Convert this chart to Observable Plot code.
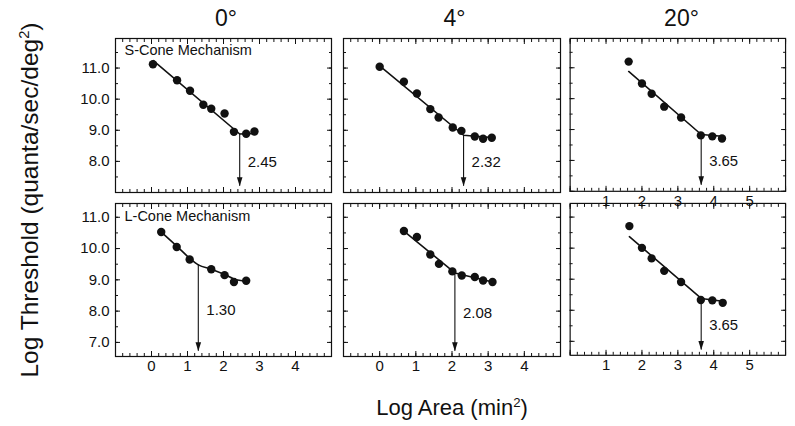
<!DOCTYPE html>
<html><head><meta charset="utf-8">
<script src="https://cdn.jsdelivr.net/npm/d3@7"></script>
<script src="https://cdn.jsdelivr.net/npm/@observablehq/plot@0.6"></script>
<style>
body{margin:0;background:#fff;}
#chart{position:relative;width:795px;height:426px;font-family:"Liberation Sans",Arial,Helvetica,sans-serif;color:#111;overflow:hidden;background:#fff;}
.panel{position:absolute;}
.panel svg{overflow:visible;background:transparent;}
.t{position:absolute;white-space:nowrap;line-height:1;}
.t sup{font-size:0.6em;vertical-align:0.6em;line-height:0;}
</style></head><body><div id="chart"></div>
<script>
// ---- data ----
const eccentricities = ["0°", "4°", "20°"];
const mechanisms = ["S-Cone Mechanism", "L-Cone Mechanism"];

// S-cone, 0°
const s0X = [0.04, 0.71, 1.07, 1.44, 1.66, 2.03, 2.29, 2.63, 2.86];
const s0Y = [11.12, 10.61, 10.27, 9.82, 9.69, 9.54, 8.95, 8.89, 8.96];
const s0FitX = [0.05, 2.45, 2.86];
const s0FitY = [11.24, 8.88, 8.90];
// S-cone, 4°
const s4X = [0.0, 0.67, 1.03, 1.40, 1.63, 2.02, 2.26, 2.63, 2.86, 3.10];
const s4Y = [11.04, 10.56, 10.18, 9.68, 9.41, 9.09, 8.98, 8.80, 8.73, 8.76];
const s4FitX = [0.0, 2.32, 3.10];
const s4FitY = [11.07, 8.84, 8.77];
// S-cone, 20°
const s20X = [1.63, 2.00, 2.27, 2.62, 3.09, 3.64, 3.96, 4.23];
const s20Y = [11.20, 10.49, 10.16, 9.74, 9.39, 8.81, 8.78, 8.71];
const s20FitX = [1.63, 3.65, 4.23];
const s20FitY = [10.88, 8.84, 8.78];
// L-cone, 0°
const l0X = [0.27, 0.70, 1.06, 1.66, 2.03, 2.29, 2.63];
const l0Y = [10.53, 10.05, 9.65, 9.34, 9.15, 8.93, 8.97];
const l0FitX = [0.27, 0.70, 1.06, 1.30, 1.66, 2.03, 2.29, 2.63];
const l0FitY = [10.53, 10.08, 9.69, 9.48, 9.34, 9.17, 9.03, 8.96];
// L-cone, 4°
const l4X = [0.67, 1.03, 1.40, 1.64, 2.01, 2.27, 2.63, 2.86, 3.12];
const l4Y = [10.56, 10.37, 9.81, 9.51, 9.27, 9.14, 9.09, 8.98, 8.93];
const l4FitX = [0.67, 2.08, 3.12];
const l4FitY = [10.56, 9.22, 8.93];
// L-cone, 20°
const l20X = [1.65, 2.00, 2.27, 2.62, 3.09, 3.64, 3.96, 4.25];
const l20Y = [10.71, 10.01, 9.67, 9.27, 8.91, 8.33, 8.32, 8.24];
const l20FitX = [1.65, 3.65, 4.25];
const l20FitY = [10.37, 8.38, 8.29];

const breakpoints = [2.45, 2.32, 3.65, 1.30, 2.08, 3.65];
const arrowTips = [7.2, 7.2, 7.2, 6.72, 6.72, 6.72];
const labelY = [7.98, 7.98, 7.98, 8.03, 7.92, 7.52];

const xDomains = [[-1, 5], [-1, 5], [0, 6]];
const yDomains = [[7.0, 11.95], [6.55, 11.44]];
const xTickLabels = [[0, 1, 2, 3, 4], [0, 1, 2, 3, 4], [1, 2, 3, 4, 5]];
const yTickLabels = [[8, 9, 10, 11], [7, 8, 9, 10, 11]];

const pointX = [s0X, s4X, s20X, l0X, l4X, l20X];
const pointY = [s0Y, s4Y, s20Y, l0Y, l4Y, l20Y];
const fitX = [s0FitX, s4FitX, s20FitX, l0FitX, l4FitX, l20FitX];
const fitY = [s0FitY, s4FitY, s20FitY, l0FitY, l4FitY, l20FitY];

// ---- layout ----
const colLeft = [115, 343, 570], colRight = [331, 560, 787];
const rowTop = [38, 203], rowBottom = [192, 356];
const FONT = '"Liberation Sans", Arial, Helvetica, sans-serif';
const INK = "#111";

const arrowHead = {draw(ctx) { ctx.moveTo(0, 0); ctx.lineTo(-2.8, -9); ctx.lineTo(2.8, -9); ctx.closePath(); }};

const chart = document.getElementById("chart");

function panel(r, c) {
  const i = r * 3 + c;
  const ml = 50, mr = 10, mt = 10, mb = 30;
  const fw = colRight[c] - colLeft[c], fh = rowBottom[r] - rowTop[r];
  const [x0, x1] = xDomains[c], [y0, y1] = yDomains[r];
  const minorX = d3.range(Math.ceil(x0 * 5 - 1e-9), Math.floor(x1 * 5 + 1e-9) + 1).map(d => d / 5);
  const majorX = d3.range(Math.ceil(x0), Math.floor(x1) + 1);
  const minorY = d3.range(Math.ceil(y0 * 2 - 1e-9), Math.floor(y1 * 2 + 1e-9) + 1).map(d => d / 2);
  const majorY = d3.range(Math.ceil(y0), Math.floor(y1) + 1);
  const pts = pointX[i].map((x, k) => ({x, y: pointY[i][k]}));
  const fit = fitX[i].map((x, k) => ({x, y: fitY[i][k]}));
  const bp = breakpoints[i];
  const kneeY = fitY[i][fitX[i].indexOf(bp)];
  const showX = r === 1 || (r === 0 && c === 2);
  const showY = c === 0;
  const tickOpts = {stroke: INK, fill: "none", label: null};
  const marks = [
    Plot.frame({stroke: INK, strokeWidth: 1.2}),
    Plot.axisX({...tickOpts, anchor: "bottom", ticks: minorX, tickSize: -3}),
    Plot.axisX({...tickOpts, anchor: "bottom", ticks: majorX, tickSize: -5}),
    Plot.axisX({...tickOpts, anchor: "top", ticks: minorX, tickSize: -3}),
    Plot.axisX({...tickOpts, anchor: "top", ticks: majorX, tickSize: -5}),
    Plot.axisY({...tickOpts, anchor: "left", ticks: minorY, tickSize: -3}),
    Plot.axisY({...tickOpts, anchor: "left", ticks: majorY, tickSize: -5}),
    Plot.axisY({...tickOpts, anchor: "right", ticks: minorY, tickSize: -3}),
    Plot.axisY({...tickOpts, anchor: "right", ticks: majorY, tickSize: -5}),
  ];
  if (showX) marks.push(Plot.axisX({anchor: "bottom", ticks: xTickLabels[c], tickSize: 0, tickPadding: 4, tickFormat: d3.format("d"), label: null, fill: INK, fontSize: 15}));
  if (showY) marks.push(Plot.axisY({anchor: "left", ticks: yTickLabels[r], tickSize: 0, tickPadding: 6, tickFormat: d3.format(".1f"), label: null, fill: INK, fontSize: 15}));
  if (c === 0) marks.push(Plot.text([mechanisms[r]], {frameAnchor: "top-left", text: d => d, dx: 9, dy: r === 0 ? 6 : 7, lineAnchor: "top", textAnchor: "start", fontSize: 14.5, fill: INK}));
  marks.push(
    Plot.line(fit, {x: "x", y: "y", stroke: INK, strokeWidth: 1.6, curve: i === 3 ? "monotone-x" : "linear"}),
    Plot.dot(pts, {x: "x", y: "y", r: 4.2, fill: INK, stroke: null}),
    Plot.ruleX([bp], {x: d => d, y1: kneeY, y2: arrowTips[i], stroke: INK, strokeWidth: 1.1}),
    Plot.dot([bp], {x: d => d, y: arrowTips[i], symbol: arrowHead, fill: INK, stroke: null}),
    Plot.text([bp], {x: d => d, y: labelY[i], text: d => d3.format(".2f")(d), dx: 8, textAnchor: "start", fontSize: 15, fill: INK})
  );
  const svg = Plot.plot({
    width: fw + ml + mr, height: fh + mt + mb,
    marginLeft: ml, marginRight: mr, marginTop: mt, marginBottom: mb,
    x: {domain: [x0, x1]}, y: {domain: [y0, y1]},
    style: {fontFamily: FONT, fontSize: "15px", background: "transparent", overflow: "visible", color: INK},
    marks
  });
  const div = document.createElement("div");
  div.className = "panel";
  div.style.left = (colLeft[c] - ml) + "px";
  div.style.top = (rowTop[r] - mt) + "px";
  div.appendChild(svg);
  chart.appendChild(div);
}

for (let r = 0; r < 2; r++) for (let c = 0; c < 3; c++) panel(r, c);

function addText(html, x, y, size, extra = "") {
  const d = document.createElement("div");
  d.className = "t";
  d.innerHTML = html;
  d.style.cssText += `left:${x}px;top:${y}px;font-size:${size}px;transform:translate(-50%,-50%) ${extra};`;
  chart.appendChild(d);
}
eccentricities.forEach((e, c) => addText(e, (colLeft[c] + colRight[c]) / 2 + 3, 18, 23));
addText("Log Area (min<sup>2</sup>)", 452, 408, 22);
addText("Log Threshold (quanta/sec/deg<sup>2</sup>)", 30, 200, 24.5, "rotate(-90deg)");
</script></body></html>
